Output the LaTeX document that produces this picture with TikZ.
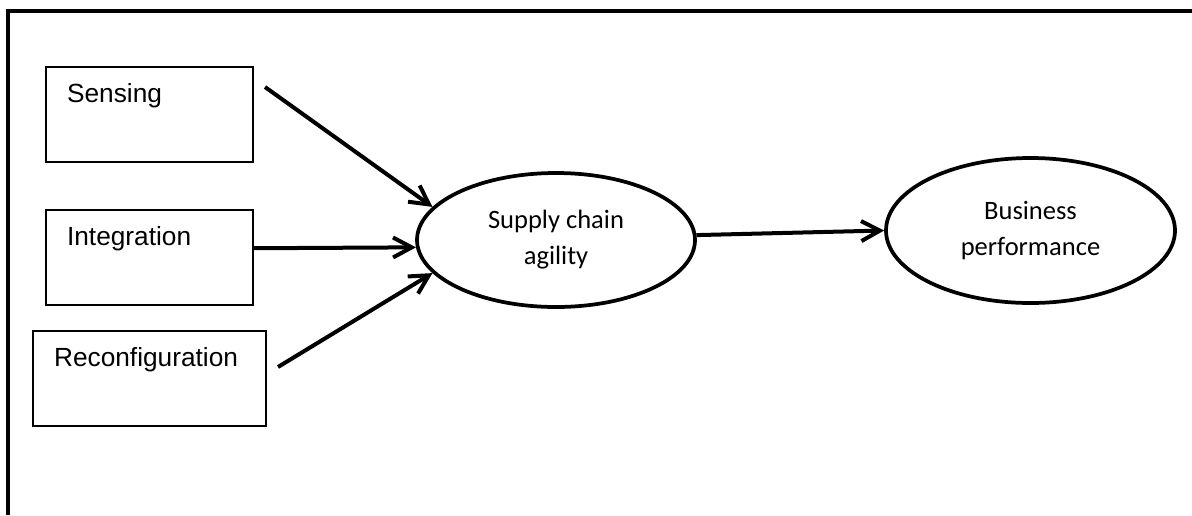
\documentclass[tikz,border=0pt]{standalone}
\usepackage{fontspec}
\usetikzlibrary{arrows.meta,shapes.geometric}
\newfontfamily\arialf{Liberation Sans}
\newfontfamily\calibf{Carlito}
\tikzset{
  every picture/.style={>={Straight Barb[length=14pt,width=15pt]}, x=0.75pt, y=-0.75pt},
  box/.style={draw, line width=1.6pt, anchor=north west, align=left, text width=#1,
    inner xsep=15.75pt, inner ysep=0pt, text height=26.25pt, text depth=45pt,
    font=\arialf\fontsize{19.7}{24}\selectfont},
  blob/.style={draw, ellipse, line width=2.8pt, inner sep=0pt, align=center,
    font=\calibf\fontsize{19.9}{27}\selectfont},
  link/.style={->, line width=3pt},
}

\begin{document}
\begin{tikzpicture}
  \path[use as bounding box] (0,0) rectangle (1192,515);
  % frame, open on the right and at the bottom
  \draw[line width=3.2pt] (8,515) -- (8,11) -- (1192,11);
  \node[box=123.75pt] (sens) at (45,66) {Sensing};
  \node[box=123.75pt] (integ) at (45,209) {Integration};
  \node[box=143.25pt] (reconf) at (32,330) {Reconfiguration};
  \node[blob, minimum width=208.5pt, minimum height=100.5pt] (sca) at (556,240) {Supply chain\\agility};
  \node[blob, minimum width=216.75pt, minimum height=108.75pt] (bp) at (1030.5,230.5) {Business\\performance};
  \coordinate (sensTail) at (265,87);
  \coordinate (reconfTail) at (278,367);
  \draw[link] (sensTail) -- (sca.165);
  \draw[link] ([yshift=7pt]integ.east) -- (sca.183);
  \draw[link] (reconfTail) -- (sca.195);
  \draw[link] (sca.2) -- (bp.west);
\end{tikzpicture}
\end{document}
